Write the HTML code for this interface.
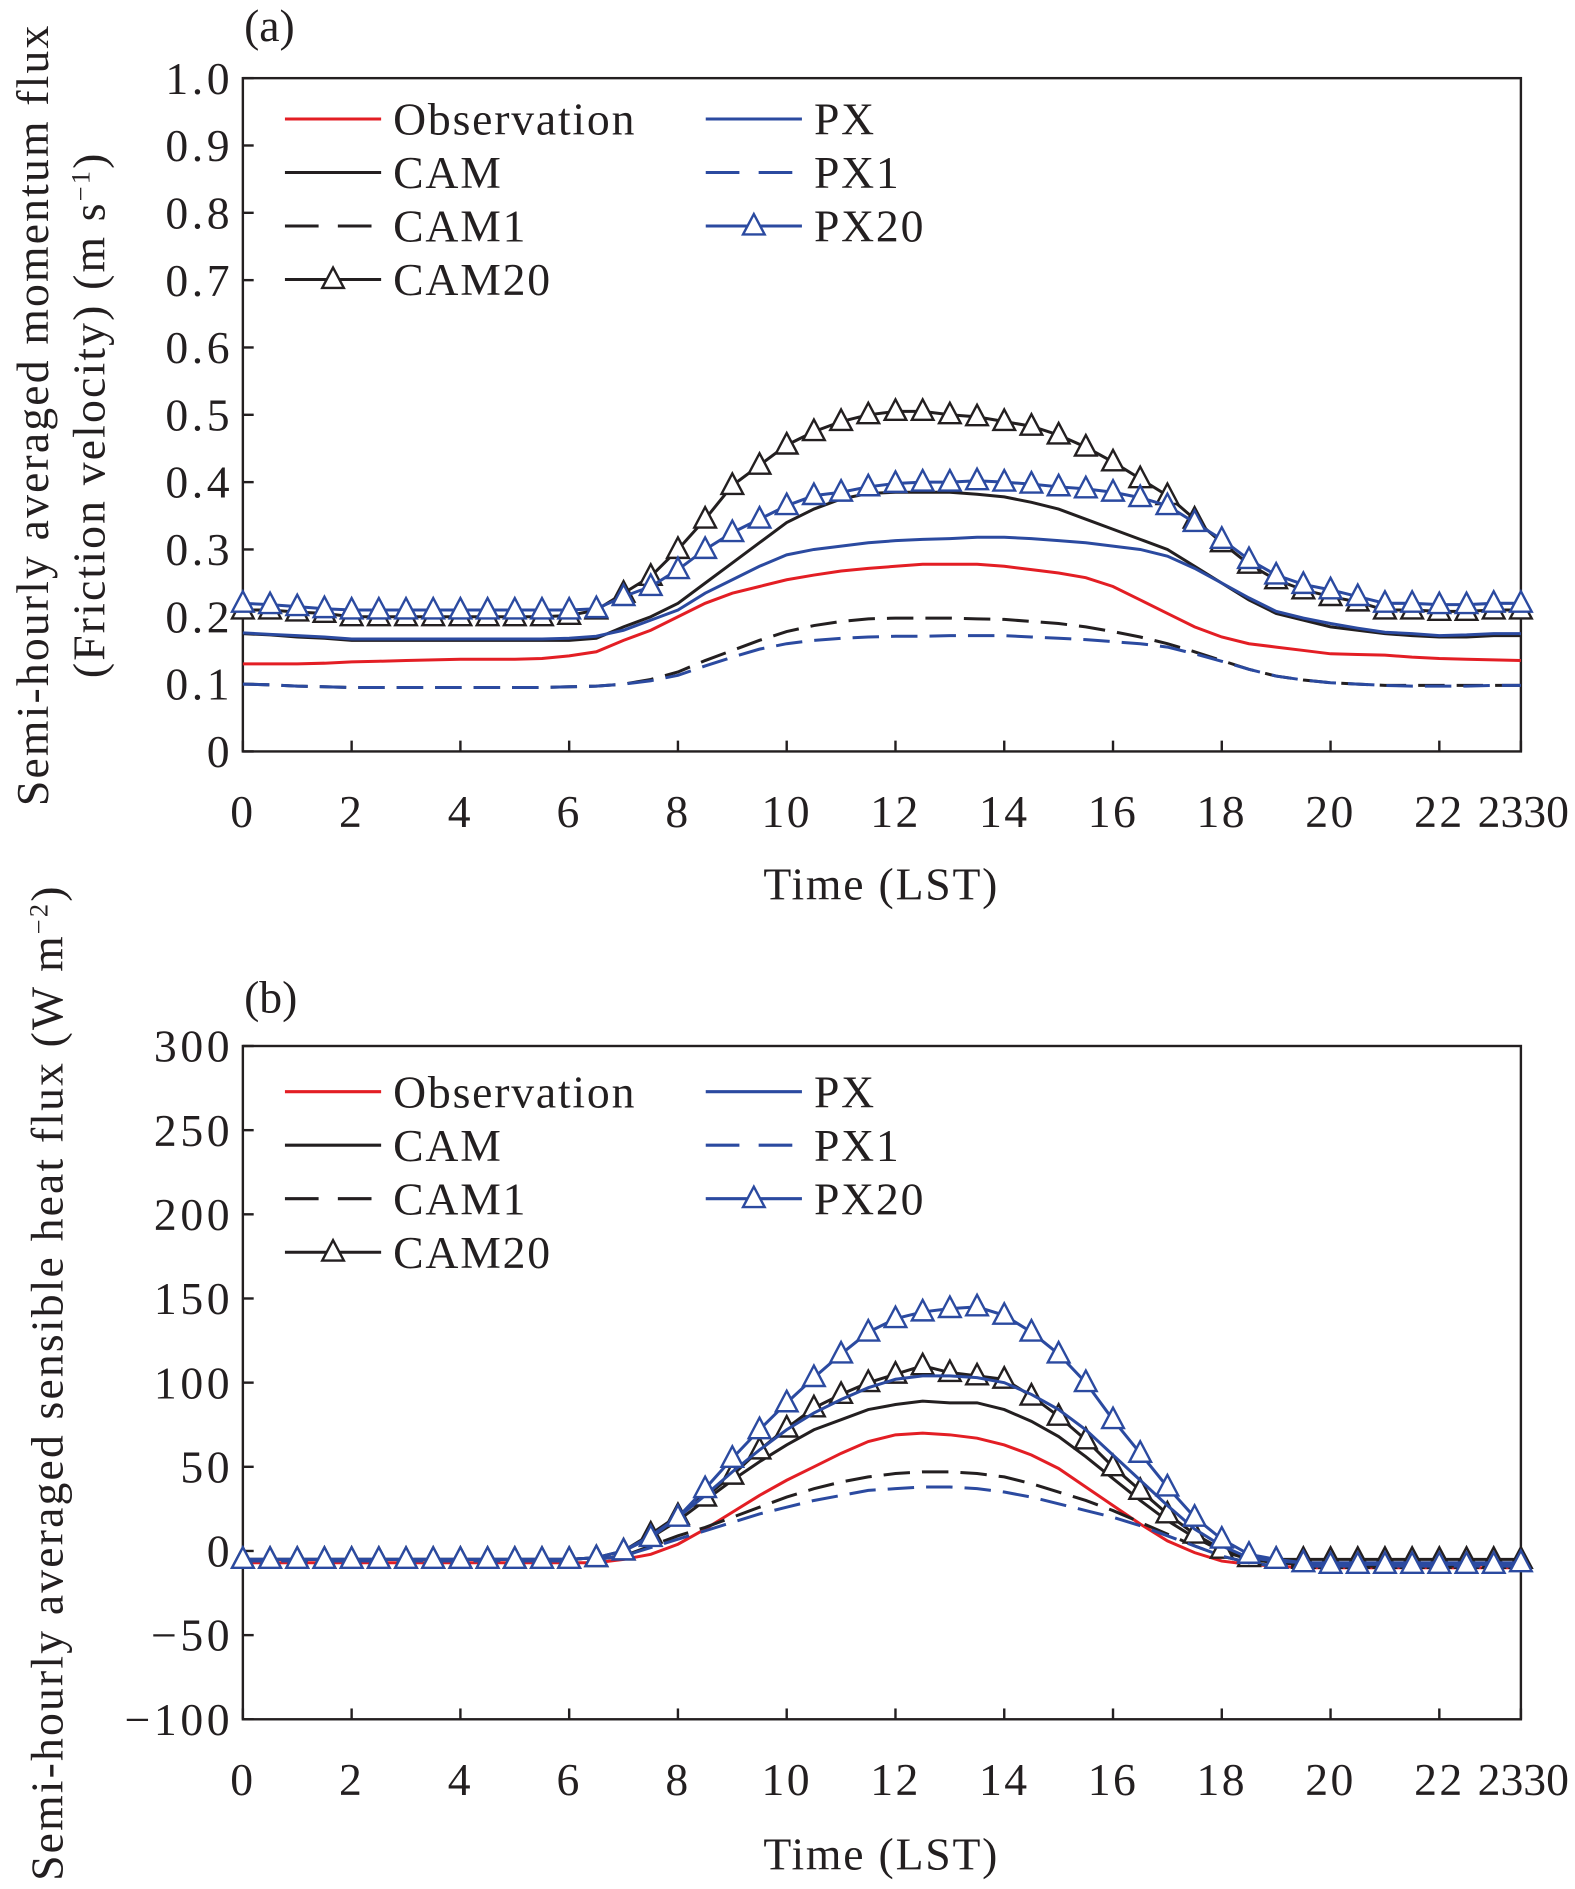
<!DOCTYPE html>
<html><head><meta charset="utf-8"><style>
html,body{margin:0;padding:0;background:#fff}
svg text{font-family:"Liberation Serif",serif;fill:#231f20}
</style></head><body>
<svg id="chart" width="1575" height="1884" viewBox="0 0 1310 1567" xmlns="http://www.w3.org/2000/svg"></svg>
<script>
const hours = Array.from({length:48},(_, i)=>i*0.5);
const xTicks = [0,2,4,6,8,10,12,14,16,18,20,22,23.5];
const xTickLabels = ["0","2","4","6","8","10","12","14","16","18","20","22","2330"];
const yTicksA = [0,0.1,0.2,0.3,0.4,0.5,0.6,0.7,0.8,0.9,1.0];
const yTickLabelsA = ["0","0.1","0.2","0.3","0.4","0.5","0.6","0.7","0.8","0.9","1.0"];
const yTicksB = [-100,-50,0,50,100,150,200,250,300];
const yTickLabelsB = ["\u2212100","\u221250","0","50","100","150","200","250","300"];

const obsA = [0.13,0.13,0.13,0.131,0.133,0.134,0.135,0.136,0.137,0.137,0.137,0.138,0.142,0.148,0.165,0.18,0.2,0.22,0.235,0.245,0.255,0.262,0.268,0.272,0.275,0.278,0.278,0.278,0.275,0.27,0.265,0.258,0.245,0.225,0.205,0.185,0.17,0.16,0.155,0.15,0.145,0.144,0.143,0.14,0.138,0.137,0.136,0.135];
const camA = [0.175,0.173,0.17,0.168,0.165,0.165,0.165,0.165,0.165,0.165,0.165,0.165,0.165,0.168,0.185,0.2,0.22,0.25,0.28,0.31,0.34,0.36,0.375,0.383,0.385,0.385,0.385,0.382,0.378,0.37,0.36,0.345,0.33,0.315,0.3,0.275,0.25,0.225,0.205,0.195,0.185,0.18,0.175,0.172,0.17,0.17,0.172,0.172];
const pxA = [0.176,0.174,0.172,0.17,0.167,0.167,0.167,0.167,0.167,0.167,0.167,0.167,0.168,0.171,0.18,0.195,0.21,0.235,0.255,0.275,0.292,0.3,0.305,0.31,0.313,0.315,0.316,0.318,0.318,0.316,0.313,0.31,0.305,0.3,0.29,0.272,0.25,0.228,0.208,0.198,0.19,0.183,0.177,0.175,0.172,0.173,0.175,0.175];
const cam1A = [0.1,0.099,0.097,0.096,0.095,0.095,0.095,0.095,0.095,0.095,0.095,0.095,0.096,0.097,0.1,0.107,0.118,0.135,0.15,0.165,0.178,0.187,0.193,0.197,0.198,0.198,0.198,0.197,0.196,0.193,0.19,0.185,0.178,0.17,0.16,0.148,0.135,0.122,0.112,0.106,0.102,0.1,0.098,0.098,0.098,0.098,0.098,0.098];
const px1A = [0.1,0.099,0.097,0.096,0.095,0.095,0.095,0.095,0.095,0.095,0.095,0.095,0.096,0.097,0.1,0.105,0.113,0.127,0.14,0.152,0.16,0.165,0.168,0.17,0.171,0.171,0.172,0.172,0.172,0.17,0.168,0.166,0.163,0.16,0.155,0.145,0.134,0.122,0.112,0.106,0.102,0.1,0.098,0.097,0.097,0.097,0.098,0.098];
const cam20A = [0.21,0.21,0.207,0.205,0.2,0.2,0.2,0.2,0.2,0.2,0.2,0.2,0.202,0.21,0.235,0.26,0.3,0.345,0.395,0.425,0.455,0.475,0.49,0.5,0.505,0.505,0.5,0.497,0.49,0.483,0.47,0.452,0.43,0.405,0.38,0.345,0.31,0.278,0.255,0.24,0.23,0.222,0.21,0.21,0.208,0.208,0.21,0.21];
const px20A = [0.22,0.218,0.215,0.212,0.21,0.21,0.21,0.21,0.21,0.21,0.21,0.21,0.21,0.212,0.23,0.245,0.27,0.3,0.325,0.345,0.365,0.38,0.385,0.393,0.398,0.4,0.4,0.402,0.4,0.397,0.393,0.39,0.385,0.377,0.365,0.34,0.315,0.285,0.262,0.248,0.24,0.23,0.22,0.22,0.218,0.218,0.22,0.22];

const obsB = [-7,-7,-7,-7,-7,-7,-7,-7,-7,-7,-7,-7,-7,-7,-5,-2,4,13,23,33,42,50,58,65,69,70,69,67,63,57,49,38,27,16,6,-1,-6,-8,-9,-10,-10,-10,-10,-10,-10,-10,-10,-10];
const camB = [-5,-5,-5,-5,-5,-5,-5,-5,-5,-5,-5,-5,-5,-4,0,8,18,30,42,53,63,72,78,84,87,89,88,88,84,77,68,56,43,30,18,8,0,-5,-7,-8,-8,-8,-8,-8,-8,-8,-8,-8];
const pxB = [-5,-5,-5,-5,-5,-5,-5,-5,-5,-5,-5,-5,-5,-4,0,9,20,33,47,60,72,82,90,97,102,104,104,103,100,93,84,72,57,42,27,13,3,-4,-6,-7,-7,-7,-7,-7,-7,-7,-7,-7];
const cam1B = [-6,-6,-6,-6,-6,-6,-6,-6,-6,-6,-6,-6,-6,-5,-3,3,9,14,20,26,32,37,41,44,46,47,47,46,44,40,35,30,24,17,10,3,-3,-7,-9,-9,-9,-9,-9,-9,-9,-9,-9,-9];
const px1B = [-6,-6,-6,-6,-6,-6,-6,-6,-6,-6,-6,-6,-6,-5,-3,2,7,12,17,22,26,30,33,36,37,38,38,37,35,32,28,24,20,15,9,3,-3,-7,-9,-9,-9,-9,-9,-9,-9,-9,-9,-9];
const cam20B = [-5,-5,-5,-5,-5,-5,-5,-5,-5,-5,-5,-5,-5,-4,0,10,21,32,45,60,73,85,93,100,105,110,106,104,102,92,80,66,50,36,22,10,1,-4,-5,-5,-5,-5,-5,-5,-5,-5,-5,-5];
const px20B = [-5,-5,-5,-5,-5,-5,-5,-5,-5,-5,-5,-5,-5,-4,0,8,20,37,55,72,88,103,117,130,138,142,144,145,140,130,117,100,78,58,38,20,7,-2,-5,-7,-8,-8,-8,-8,-8,-8,-8,-7];

const NS='http://www.w3.org/2000/svg';
const svg=document.getElementById('chart');
function mk(tag,attrs,parent){const e=document.createElementNS(NS,tag);for(const k in attrs)e.setAttribute(k,attrs[k]);(parent||svg).appendChild(e);return e;}
const X0=202,X1=1265;
const xs=h=>X0+(X1-X0)*h/23.5;
const RED='#e31e24',BLUE='#2b4aa0',BLK='#231f20';

function panel(id,top,bot,ymin,ymax,yt,ytl,series,legendY,titleLines,label,labelY,xtitleY){
  const ys=v=>bot-(bot-top)*(v-ymin)/(ymax-ymin);
  const g=mk('g',{});
  
  
  const frame=mk('rect',{x:X0,y:top,width:X1-X0,height:bot-top,fill:'none',stroke:BLK,'stroke-width':2},g);
  
  
  yt.forEach((v,i)=>{
    const y=ys(v);
    const tk=mk('line',{x1:X0,x2:X0+9,y1:y,y2:y,stroke:BLK,'stroke-width':2},g);
    
    
    const t=mk('text',{x:194,y:y+13,'text-anchor':'end','font-size':38,'letter-spacing':3},g);
    
    
    t.textContent=ytl[i];
  });
  const axisY = ymin<0 ? ys(ymin) : bot;
  xTicks.forEach((h,i)=>{
    const x=xs(h);
    const tk=mk('line',{x1:x,x2:x,y1:axisY,y2:axisY-9,stroke:BLK,'stroke-width':2},g);
    
    
    const t=mk('text',{x:i==12?x+2:x,y:bot+63,'text-anchor':'middle','font-size':38,'letter-spacing':i==12?0:2},g);
    
    
    t.textContent=xTickLabels[i];
  });
  series.forEach(s=>{
    const d=s.data.map((v,i)=>(i?'L':'M')+xs(hours[i]).toFixed(1)+' '+ys(v).toFixed(1)).join(' ');
    const p=mk('path',{d:d,fill:'none',stroke:s.color,'stroke-width':2.5,'stroke-dasharray':s.dash||'none'},g);
    
    
    if(s.tri){
      s.data.forEach((v,i)=>{
        const x=xs(hours[i]),y=ys(v);
        const m=mk('path',{d:`M${x} ${y-10}L${x+9} ${y+7}L${x-9} ${y+7}Z`,fill:'#fff',stroke:s.color,'stroke-width':2},g);
        
        
      });
    }
  });
  series.forEach((s,i)=>{
    const col=s.col, row=s.row;
    const lx=col?587:237, ly=legendY+row*44.5;
    const lg=mk('g',{},g);
    
    
    mk('line',{x1:lx,x2:lx+80,y1:ly,y2:ly,stroke:s.color,'stroke-width':2.5,'stroke-dasharray':s.dash?'28 16':'none'},lg);
    if(s.tri){const x=lx+40,y=ly;mk('path',{d:`M${x} ${y-10}L${x+9} ${y+7}L${x-9} ${y+7}Z`,fill:'#fff',stroke:s.color,'stroke-width':2},lg);}
    const t=mk('text',{x:lx+90,y:ly+13,'font-size':38,'letter-spacing':1.5},lg);
    t.textContent=s.name;
  });
  const pl=mk('text',{x:203,y:labelY,'font-size':38},g);
  
  
  pl.textContent=label;
  const xt=mk('text',{x:733,y:xtitleY,'text-anchor':'middle','font-size':38,'letter-spacing':1.5},g);
  
  
  xt.textContent='Time (LST)';
  titleLines.forEach(tl=>{
    const t=mk('text',{x:0,y:0,'text-anchor':'middle','font-size':38,'letter-spacing':1.8,transform:`translate(${tl.x},${tl.y}) rotate(-90)`},g);
    
    
    t.innerHTML=tl.html;
  });
}
panel('a',65,625,0,1.0,yTicksA,yTickLabelsA,[
  {name:'Observation',data:obsA,color:RED,col:0,row:0},
  {name:'CAM',data:camA,color:BLK,col:0,row:1},
  {name:'CAM1',data:cam1A,color:BLK,dash:'22 10',col:0,row:2},
  {name:'CAM20',data:cam20A,color:BLK,tri:true,col:0,row:3},
  {name:'PX',data:pxA,color:BLUE,col:1,row:0},
  {name:'PX1',data:px1A,color:BLUE,dash:'22 10',col:1,row:1},
  {name:'PX20',data:px20A,color:BLUE,tri:true,col:1,row:2}
],99,[{x:40,y:345,html:'Semi-hourly averaged momentum flux'},{x:87,y:345,html:'(Friction velocity) (m s<tspan baseline-shift="super" font-size="22">\u22121</tspan>)'}],'(a)',34,748);
panel('b',870,1430,-100,300,yTicksB,yTickLabelsB,[
  {name:'Observation',data:obsB,color:RED,col:0,row:0},
  {name:'CAM',data:camB,color:BLK,col:0,row:1},
  {name:'CAM1',data:cam1B,color:BLK,dash:'22 10',col:0,row:2},
  {name:'CAM20',data:cam20B,color:BLK,tri:true,col:0,row:3},
  {name:'PX',data:pxB,color:BLUE,col:1,row:0},
  {name:'PX1',data:px1B,color:BLUE,dash:'22 10',col:1,row:1},
  {name:'PX20',data:px20B,color:BLUE,tri:true,col:1,row:2}
],908,[{x:52,y:1150,html:'Semi-hourly averaged sensible heat flux (W m<tspan baseline-shift="super" font-size="22">\u22122</tspan>)'}],'(b)',842,1555);
</script>
</body></html>
